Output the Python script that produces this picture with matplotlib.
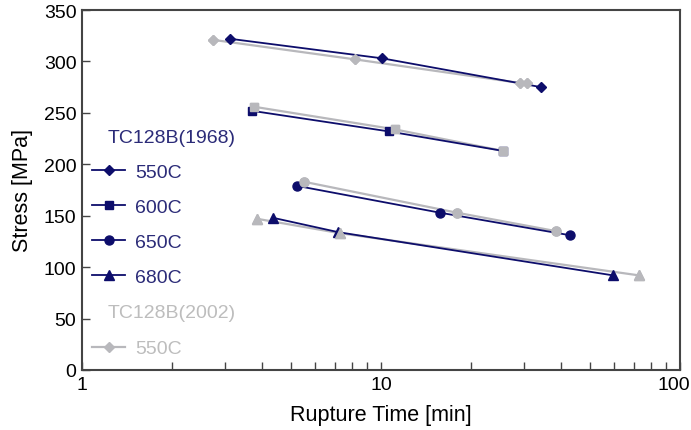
import matplotlib
matplotlib.use("Agg")
import matplotlib.pyplot as plt
from matplotlib.lines import Line2D
from matplotlib.ticker import LogLocator, NullFormatter, FixedLocator
from matplotlib.transforms import ScaledTranslation

plt.rcParams['font.family'] = ['Liberation Sans', 'DejaVu Sans']

NAVY = '#0d0d6b'
NAVY_TXT = '#2b2b78'
GRAY = '#b8b8bc'
GRAY_TXT = '#bdbdbd'

# TC128B(1968) -- rupture time [min], stress [MPa]
t550_1968 = [3.13, 10.1, 34.3]
s550_1968 = [322, 303, 275]
t600_1968 = [3.70, 10.6, 25.6]
s600_1968 = [252, 232, 213]
t650_1968 = [5.24, 15.7, 42.9]
s650_1968 = [179, 153, 131]
t680_1968 = [4.35, 7.2, 59.7]
s680_1968 = [148, 134, 92]

# TC128B(2002)
t550_2002 = [2.74, 8.19, 29.2, 30.8]
s550_2002 = [321, 302, 279, 279]
t600_2002 = [3.75, 11.1, 25.6]
s600_2002 = [256, 234, 213]
t650_2002 = [5.53, 17.9, 38.5]
s650_2002 = [183, 153, 135]
t680_2002 = [3.85, 7.29, 72.9]
s680_2002 = [147, 133, 92]

temps = ['550C', '600C', '650C', '680C']
markers = ['D', 's', 'o', '^']
msizes = [5, 6, 6.5, 6.5]

data_1968 = [(t550_1968, s550_1968), (t600_1968, s600_1968),
             (t650_1968, s650_1968), (t680_1968, s680_1968)]
data_2002 = [(t550_2002, s550_2002), (t600_2002, s600_2002),
             (t650_2002, s650_2002), (t680_2002, s680_2002)]

fig = plt.figure(figsize=(6.91, 4.31), dpi=100)
ax = fig.add_axes([82 / 691, 60 / 431, 598 / 691, 360 / 431])

for (t, s), m, ms in zip(data_1968, markers, msizes):
    ax.plot(t, s, color=NAVY, marker=m, markersize=ms, lw=1.3, zorder=3)
for (t, s), m, ms in zip(data_2002, markers, msizes):
    ax.plot(t, s, color=GRAY, marker=m, markersize=ms, lw=1.6, zorder=2)
# gray markers on top of navy ones
for (t, s), m, ms in zip(data_2002, markers, msizes):
    ax.plot(t, s, color=GRAY, marker=m, markersize=ms, lw=0, zorder=4)

ax.set_xscale('log')
ax.set_xlim(1, 100)
ax.set_ylim(0, 350)
ax.yaxis.set_major_locator(FixedLocator(range(0, 351, 50)))
ax.xaxis.set_minor_locator(LogLocator(base=10, subs=range(2, 10)))
ax.xaxis.set_minor_formatter(NullFormatter())
ax.set_xticks([1, 10, 100])
ax.set_xticklabels(['1', '10', '100'])

ax.tick_params(axis='both', which='both', direction='in', labelsize=14,
               color='#444444', width=1.0, top=False, right=False)
ax.tick_params(axis='both', which='major', length=6, pad=4)
ax.tick_params(axis='x', which='minor', length=6)
for sp in ax.spines.values():
    sp.set_color('#444444')
    sp.set_linewidth(1.5)

# keep the last x label inside the picture
last = ax.get_xticklabels()[-1]
last.set_transform(last.get_transform() + ScaledTranslation(-6 / 100, 0, fig.dpi_scale_trans))

ax.set_xlabel('Rupture Time [min]', fontsize=15.5, labelpad=8)
ax.set_ylabel('Stress [MPa]', fontsize=15.5, labelpad=8)

# legend headings and entries
ax.text(0.0435, 0.647, 'TC128B(1968)', transform=ax.transAxes, fontsize=14,
        color=NAVY_TXT, va='center', ha='left')
ax.text(0.0435, 0.161, 'TC128B(2002)', transform=ax.transAxes, fontsize=14,
        color=GRAY_TXT, va='center', ha='left')

h1 = [Line2D([], [], color=NAVY, marker=m, markersize=ms, lw=1.3)
      for m, ms in zip(markers, msizes)]
leg1 = ax.legend(h1, temps, loc='upper left', bbox_to_anchor=(0.0167, 0.575),
                 frameon=False, fontsize=14, borderpad=0, borderaxespad=0,
                 handlelength=1.7, handletextpad=0.5, labelspacing=0.9)
for txt in leg1.get_texts():
    txt.set_color(NAVY_TXT)
ax.add_artist(leg1)

h2 = [Line2D([], [], color=GRAY, marker='D', markersize=5, lw=1.6)]
leg2 = ax.legend(h2, ['550C'], loc='upper left', bbox_to_anchor=(0.0167, 0.084),
                 frameon=False, fontsize=14, borderpad=0, borderaxespad=0,
                 handlelength=1.7, handletextpad=0.5)
for txt in leg2.get_texts():
    txt.set_color(GRAY_TXT)

fig.savefig('out.png', dpi=100)
